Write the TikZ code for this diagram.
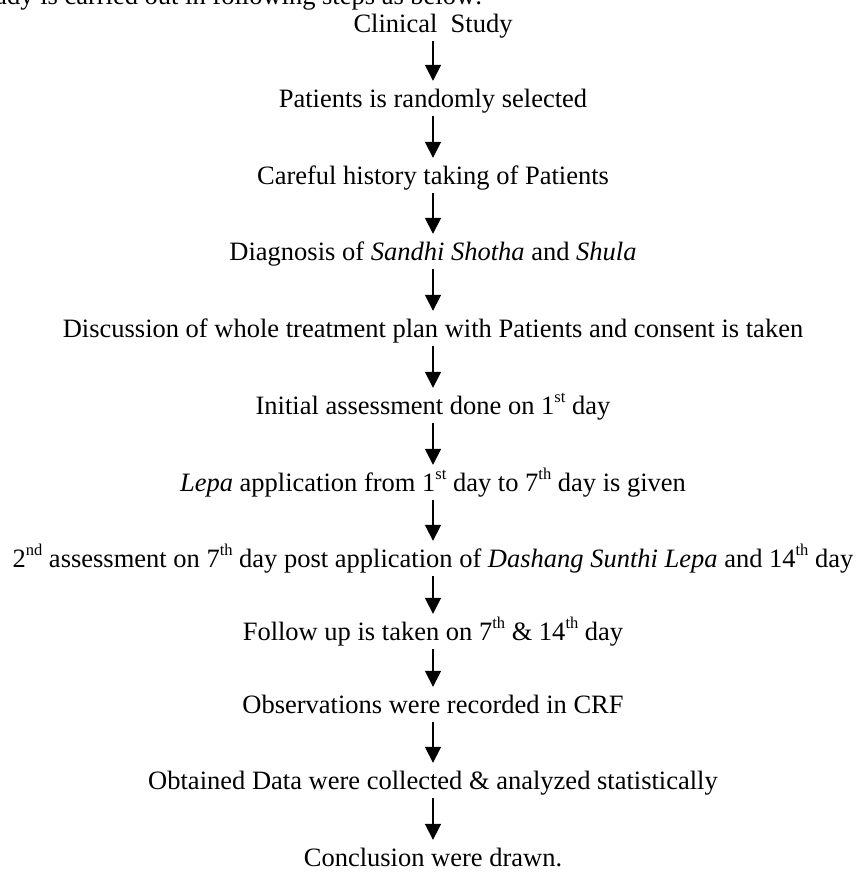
\documentclass[tikz,border=0pt]{standalone}
\usepackage{fontspec}
\setmainfont{Liberation Serif}
\usetikzlibrary{arrows.meta}
\newcommand\supx[1]{\raisebox{0.42em}{\fontsize{16.5}{17}\selectfont #1}}
\begin{document}
\begin{tikzpicture}[x=1pt,y=-1pt,
  font=\fontsize{26.5}{30}\selectfont,
  lbl/.style={anchor=base, inner sep=0pt, text height=26pt, text depth=9pt},
  arr/.style={line width=1.8pt, -{Triangle[width=16pt,length=16pt]}}]
\useasboundingbox (0,0) rectangle (859,879);
\begin{scope}
\clip (0,0) rectangle (859,879);
\node[anchor=base west, inner sep=0pt] (intro) at (-24,4) {study is carried out in following steps as below:};
\end{scope}
\node[lbl] (n1) at (433,32) {Clinical\ \ Study};
\node[lbl] (n2) at (433,107) {Patients is randomly selected};
\node[lbl] (n3) at (433,184) {Careful history taking of Patients};
\node[lbl] (n4) at (433,260) {Diagnosis of \textit{Sandhi Shotha} and \textit{Shula}};
\node[lbl] (n5) at (433,337) {Discussion of whole treatment plan with Patients and consent is taken};
\node[lbl] (n6) at (433,414) {Initial assessment done on 1\supx{st} day};
\node[lbl] (n7) at (433,491) {\textit{Lepa} application from 1\supx{st} day to 7\supx{th} day is given};
\node[lbl] (n8) at (433,567) {2\supx{nd} assessment on 7\supx{th} day post application of \textit{Dashang Sunthi Lepa} and 14\supx{th} day};
\node[lbl] (n9) at (433,640) {Follow up is taken on 7\supx{th} \& 14\supx{th} day};
\node[lbl] (n10) at (433,713) {Observations were recorded in CRF};
\node[lbl] (n11) at (433,789) {Obtained Data were collected \& analyzed statistically};
\node[lbl] (n12) at (433,866) {Conclusion were drawn.};
\foreach \a/\b in {n1/n2,n2/n3,n3/n4,n4/n5,n5/n6,n6/n7,n7/n8,n8/n9,n9/n10,n10/n11,n11/n12}
  \draw[arr] (\a) -- (\b);
\end{tikzpicture}
\end{document}
